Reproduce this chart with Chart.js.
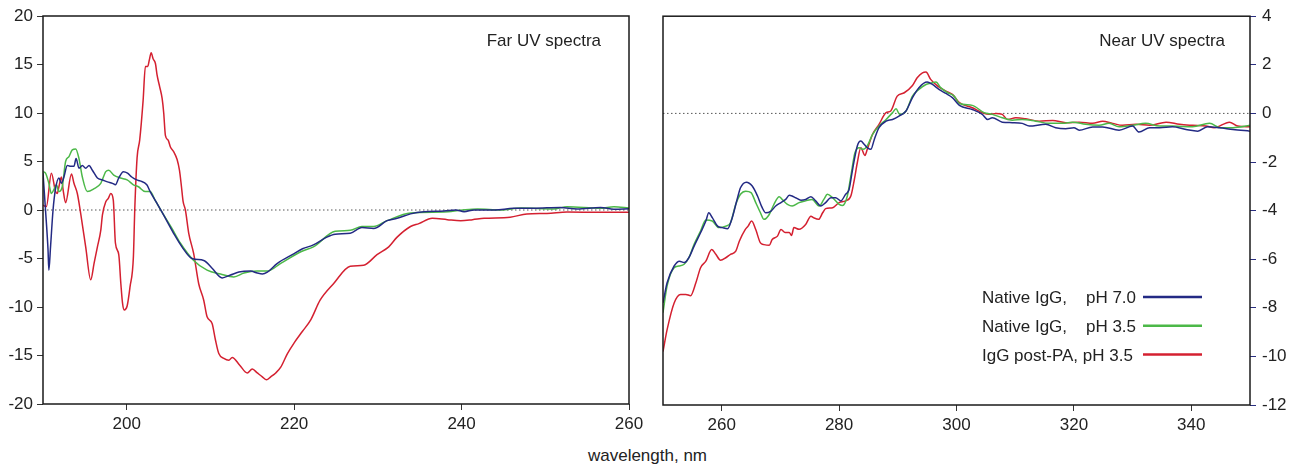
<!DOCTYPE html>
<html>
<head>
<meta charset="utf-8">
<title>Far / Near UV CD spectra</title>
<script src="https://cdn.jsdelivr.net/npm/chart.js@4.4.1/dist/chart.umd.min.js"></script>
<style>
    body { margin: 0; background: #fff; }
    #wrap { position: relative; width: 1289px; height: 464px; overflow: hidden; font-family: 'Liberation Sans', Arial, sans-serif; }
    canvas { position: absolute; top: 0; }
    #farChart { left: 0; }
    #nearChart { left: 640px; }
    #xTitle { position: absolute; left: 0; width: 1295px; top: 446px; line-height: 20px; text-align: center; font-size: 17px; color: #222; }
</style>
</head>
<body>
<div id="wrap">
    <canvas id="farChart" width="660" height="440" style="width:660px;height:440px"></canvas>
    <canvas id="nearChart" width="649" height="440" style="width:649px;height:440px"></canvas>
    <div id="xTitle">wavelength, nm</div>
</div>
<script>
// Series labels and colours
const seriesLabels = ['Native IgG,    pH 7.0', 'Native IgG,    pH 3.5', 'IgG post-PA, pH 3.5'];
const seriesColors = ['#232a84', '#4cb848', '#d42030'];

// Tick values
const farXTicks = [200, 220, 240, 260];
const farYTicks = [-20, -15, -10, -5, 0, 5, 10, 15, 20];
const nearXTicks = [260, 280, 300, 320, 340];
const nearYTicks = [-12, -10, -8, -6, -4, -2, 0, 2, 4];

// Far UV spectra: [wavelength nm, CD signal]
const farNative70 = [[190,3.8],[190.3,0],[190.6,-4.1],[190.7,-6.2],[190.9,-3.8],[191.2,0],[191.5,2.2],[191.9,3.3],[192.2,2.75],[192.5,3.4],[192.9,4.6],[193.3,4.5],[193.7,4.5],[193.95,5.3],[194.3,4.3],[194.7,4.6],[195.1,4.3],[195.5,4.6],[195.9,4.1],[196.5,3.3],[197.1,3.1],[197.7,2.9],[198.3,2.75],[198.65,2.6],[199.05,3.3],[199.6,3.95],[200.1,3.8],[200.6,3.4],[201.2,3.1],[201.6,3.0],[202.4,2.6],[202.8,1.9],[203.6,0.7],[204.2,-0.2],[205.6,-2.4],[206.6,-3.8],[207.8,-5.0],[209.2,-5.2],[210.2,-6.0],[211.4,-7.0],[212.4,-6.7],[213.4,-6.4],[214.8,-6.3],[215.6,-6.5],[216.2,-6.6],[216.8,-6.4],[218,-5.5],[220,-4.5],[221,-4.0],[222.3,-3.6],[223.9,-2.8],[224.9,-2.5],[226.7,-2.4],[228.1,-1.8],[229.5,-1.9],[231.1,-1.1],[232.3,-0.86],[233.9,-0.4],[235.5,-0.17],[237.9,-0.1],[239.3,0],[240.3,-0.17],[241.5,0],[244,0],[246.2,0.17],[248.6,0.17],[251.8,0.27],[253.8,0.1],[256.6,0.27],[258.2,0.07],[260,0.14]];
const farNative35 = [[190,3.95],[190.3,3.8],[190.7,2.75],[191,1.7],[191.3,2.1],[191.6,2.6],[191.9,1.9],[192.3,2.4],[192.7,5.0],[193.1,5.5],[193.5,6.2],[193.9,6.3],[194.3,5.3],[194.7,3.4],[195.3,1.9],[196.1,2.2],[196.9,2.75],[197.5,3.95],[197.85,4.1],[198.45,3.6],[199.25,3.3],[200.05,3.1],[200.8,2.6],[201.4,2.4],[202.2,1.9],[202.8,1.9],[203.4,1.0],[204.2,-0.2],[205.4,-1.9],[206.4,-3.4],[208,-5.2],[209.6,-6.2],[211.2,-6.6],[212.8,-6.9],[214,-6.5],[215.6,-6.3],[216.8,-6.3],[218.4,-5.5],[220.8,-4.3],[222.3,-3.8],[224.9,-2.2],[226.7,-2.1],[228.1,-1.7],[229.5,-1.7],[231.1,-1.1],[233.9,-0.3],[237.9,-0.2],[239.9,-0.03],[241.9,0.1],[244.7,0],[247.1,0.2],[251,0.1],[252.6,0.34],[256.6,0.17],[258.2,0.34],[260,0.2]];
const farPostPA35 = [[190,0.5],[190.4,0.35],[191,3.8],[191.5,1.9],[191.7,1.7],[191.9,2.4],[192.2,3.4],[192.4,2.1],[192.7,0.75],[193.4,3.7],[193.7,2.75],[194.1,1.7],[194.5,-0.35],[195.1,-3.8],[195.7,-7.2],[196.1,-5.5],[196.5,-3.8],[196.9,-2.1],[197.1,-0.5],[197.5,0.85],[197.8,1.2],[198.1,1.7],[198.4,1.0],[198.65,-3.4],[199.05,-4.6],[199.3,-7.6],[199.5,-9.6],[199.7,-10.3],[200.05,-9.9],[200.4,-7.9],[200.8,-4.8],[200.96,0],[201.24,5.4],[201.55,7.2],[201.96,11.3],[202.23,14.8],[202.51,14.8],[202.71,15.5],[202.92,16.2],[203.15,15.6],[203.43,15.1],[203.63,13.9],[203.94,12.7],[204.23,11.5],[204.42,10],[204.62,7.7],[204.95,7.2],[205.22,6.5],[205.62,6.0],[206.02,5.2],[206.3,4.1],[206.54,2.4],[206.74,0.86],[207.01,0],[207.41,-2.4],[208,-4.5],[208.6,-7.6],[209.2,-9.3],[209.6,-11],[210.2,-11.7],[210.6,-13.4],[211,-14.8],[211.6,-15.3],[212.2,-15.5],[212.6,-15.2],[213.5,-16],[214.4,-16.8],[215,-16.4],[215.6,-16.8],[216.2,-17.2],[216.7,-17.5],[217.2,-17.2],[217.8,-16.8],[218.4,-16.2],[219.2,-14.8],[220,-13.7],[221,-12.5],[222,-11.3],[223.1,-9.3],[224.7,-7.6],[226.7,-5.8],[228.3,-5.7],[229.9,-4.6],[231.3,-3.8],[232.3,-2.8],[233.9,-1.7],[234.9,-1.4],[236.5,-0.86],[238.3,-1.0],[239.9,-1.1],[241.3,-1.0],[242.7,-0.86],[245.8,-0.75],[247.8,-0.4],[250.2,-0.35],[252.6,-0.2],[256.6,-0.24],[260,-0.24]];

// Near UV spectra: [wavelength nm, CD signal]
const nearNative70 = [[250,-7.8],[250.7,-6.97],[251.9,-6.28],[252.8,-6.08],[253.6,-6.14],[254.4,-5.94],[255.3,-5.46],[256.4,-4.91],[257.3,-4.43],[257.8,-4.09],[258.4,-4.29],[259.3,-4.64],[260.1,-4.7],[261,-4.75],[261.8,-4.29],[262.7,-3.47],[263.2,-3.06],[264.2,-2.83],[265.2,-2.99],[266.1,-3.4],[266.9,-3.88],[267.5,-4.09],[268.4,-4.02],[269.2,-3.81],[270.1,-3.67],[270.9,-3.54],[271.5,-3.37],[272,-3.4],[272.6,-3.47],[273.5,-3.57],[274.3,-3.54],[275.2,-3.43],[276,-3.6],[276.9,-3.81],[277.7,-3.67],[278.6,-3.47],[279.4,-3.47],[280.3,-3.6],[281.1,-3.33],[281.7,-3.13],[282.3,-2.3],[283.1,-1.34],[283.7,-1.14],[284.3,-1.28],[284.8,-1.41],[285.4,-1.48],[286,-1.07],[286.8,-0.59],[288,-0.32],[289.1,-0.25],[290.2,-0.11],[291.4,0.1],[292.5,0.65],[293.6,1.06],[295,1.29],[295.9,1.19],[297,0.99],[298.2,0.82],[299.3,0.65],[300.5,0.33],[302.7,0.16],[304.4,-0.04],[305.3,-0.25],[306.1,-0.18],[307.8,-0.36],[309.5,-0.38],[311.2,-0.41],[312.4,-0.52],[315.2,-0.45],[316.9,-0.59],[318.6,-0.63],[320,-0.59],[320.9,-0.69],[323.2,-0.56],[324.9,-0.56],[327.7,-0.69],[330,-0.52],[331.1,-0.77],[332.9,-0.59],[334.6,-0.59],[336.8,-0.55],[339.1,-0.66],[341.1,-0.73],[342.8,-0.55],[344.8,-0.59],[347.1,-0.66],[350,-0.73]];
const nearNative35 = [[250,-8.2],[250.7,-7.1],[251.9,-6.35],[252.7,-6.28],[253.6,-6.21],[254.4,-5.94],[255.3,-5.39],[256.4,-4.84],[257.3,-4.39],[258.4,-4.43],[259.5,-4.7],[260.7,-4.64],[261.5,-4.5],[262.4,-3.74],[263.2,-3.33],[264.1,-3.2],[265,-3.26],[265.8,-3.67],[266.6,-4.09],[267.2,-4.36],[268.1,-4.16],[268.9,-3.74],[269.8,-3.43],[270.3,-3.54],[271.2,-3.74],[272,-3.81],[273.2,-3.67],[274.3,-3.6],[275.4,-3.54],[276.6,-3.81],[277.4,-3.54],[278,-3.33],[278.9,-3.47],[280,-3.74],[280.6,-3.79],[281.4,-3.4],[282,-2.58],[282.7,-1.62],[283.4,-1.41],[284.1,-1.48],[284.8,-1.34],[285.7,-0.86],[286.8,-0.52],[288,-0.25],[289.1,0.03],[289.7,0.19],[290.3,-0.04],[291.4,0.1],[292.5,0.71],[293.6,0.99],[294.8,1.19],[295.6,1.24],[296.5,1.29],[297.3,1.06],[298.5,0.85],[299.6,0.71],[300.5,0.41],[302.7,0.33],[304.7,0.03],[306.1,-0.04],[307.8,-0.18],[309.5,-0.28],[311.2,-0.25],[313.5,-0.32],[315.8,-0.41],[318.1,-0.41],[319.8,-0.36],[322,-0.45],[324.3,-0.49],[326,-0.41],[327.7,-0.55],[330,-0.49],[332.2,-0.41],[334.6,-0.52],[336.8,-0.52],[340.2,-0.55],[343.1,-0.41],[345,-0.59],[347.1,-0.59],[350,-0.49]];
const nearPostPA35 = [[250,-9.8],[250.7,-8.9],[251.9,-7.8],[253,-7.45],[253.9,-7.45],[254.7,-7.5],[255.6,-6.97],[256.4,-6.35],[257.3,-6.08],[258.3,-5.6],[259,-5.8],[259.8,-6.04],[260.7,-5.94],[261.5,-5.8],[262.4,-5.67],[263,-5.26],[264,-4.78],[264.5,-4.64],[265.1,-4.43],[265.8,-4.78],[266.6,-5.33],[267.2,-5.4],[268.1,-5.43],[268.6,-5.19],[269.5,-5.05],[270.1,-4.78],[270.8,-4.9],[271.5,-4.9],[271.9,-5.02],[272.3,-4.7],[273.2,-4.77],[274.3,-4.57],[275.2,-4.23],[275.7,-4.3],[276.5,-4.36],[277.2,-4.09],[277.7,-3.92],[278.9,-3.88],[280,-3.67],[281.1,-3.6],[282,-3.4],[282.6,-2.72],[283.1,-2.03],[283.7,-1.41],[284.4,-1.73],[284.8,-1.48],[285.7,-0.86],[286.8,-0.45],[288,0.03],[288.8,0.1],[289.9,0.71],[291.1,0.85],[292.5,1.15],[293.3,1.47],[294.2,1.67],[294.8,1.7],[295.6,1.4],[296.8,1.12],[298.2,0.92],[299.3,0.78],[300.5,0.44],[302.7,0.23],[304.4,0.03],[305.6,-0.04],[306.7,0],[307.8,-0.04],[308.7,-0.25],[310.1,-0.18],[311.8,-0.22],[314.1,-0.32],[316.4,-0.29],[318.6,-0.38],[320.9,-0.36],[323.2,-0.41],[324.9,-0.32],[326.6,-0.41],[328.3,-0.49],[330.6,-0.45],[332.9,-0.49],[335.7,-0.36],[338,-0.45],[340.2,-0.49],[342.5,-0.52],[343.9,-0.59],[346.5,-0.36],[347.9,-0.52],[350,-0.55]];

Chart.defaults.font.family = "'Liberation Sans', Arial, sans-serif";
Chart.defaults.font.size = 17;
Chart.defaults.color = '#222';

// Helper: turn [x, y] pairs into line datasets
function makeDatasets(seriesList) {
    return seriesList.map((pairs, i) => ({
        label: seriesLabels[i],
        data: pairs.map(p => ({ x: p[0], y: p[1] })),
        borderColor: seriesColors[i],
        borderWidth: 1.5,
        pointRadius: 0,
        cubicInterpolationMode: 'monotone',
        fill: false
    }));
}

// Dotted zero line and box around the plot area
const framePlugin = {
    id: 'frame',
    beforeDatasetsDraw(chart) {
        const { ctx, chartArea: a } = chart;
        const y0 = chart.scales.y.getPixelForValue(0);
        ctx.save();
        ctx.strokeStyle = '#555';
        ctx.lineWidth = 1;
        ctx.setLineDash([1.5, 2.5]);
        ctx.beginPath();
        ctx.moveTo(a.left, y0);
        ctx.lineTo(a.right, y0);
        ctx.stroke();
        ctx.restore();
    },
    afterDatasetsDraw(chart) {
        const { ctx, chartArea: a } = chart;
        ctx.save();
        ctx.strokeStyle = '#1a1a1a';
        ctx.lineWidth = 1.5;
        ctx.strokeRect(a.left, a.top, a.right - a.left, a.bottom - a.top);
        ctx.restore();
    }
};

// Panel caption in the top right corner
function panelLabel(text, rightOffset) {
    return {
        id: 'panelLabel',
        afterDraw(chart) {
            const { ctx, chartArea: a } = chart;
            ctx.save();
            ctx.font = "17px 'Liberation Sans', Arial, sans-serif";
            ctx.fillStyle = '#222';
            ctx.textAlign = 'right';
            ctx.textBaseline = 'alphabetic';
            ctx.fillText(text, a.right - rightOffset, a.top + 29.5);
            ctx.restore();
        }
    };
}

// Legend with the line sample after the text
const lineLegend = {
    id: 'lineLegend',
    afterDraw(chart) {
        const { ctx, chartArea: a } = chart;
        ctx.save();
        ctx.font = "17px 'Liberation Sans', Arial, sans-serif";
        ctx.textAlign = 'left';
        ctx.textBaseline = 'alphabetic';
        chart.data.datasets.forEach((ds, i) => {
            const base = a.bottom - 102 + i * 28.8;
            ctx.fillStyle = '#222';
            ctx.fillText(ds.label, a.right - 268, base);
            ctx.strokeStyle = ds.borderColor;
            ctx.lineWidth = 2.5;
            ctx.beginPath();
            ctx.moveTo(a.right - 107, base - 6);
            ctx.lineTo(a.right - 48, base - 6);
            ctx.stroke();
        });
        ctx.restore();
    }
};

function axisOptions(min, max, tickValues, extra) {
    return Object.assign({
        type: 'linear',
        min: min,
        max: max,
        afterBuildTicks: scale => { scale.ticks = tickValues.map(v => ({ value: v })); },
        ticks: { autoSkip: false, maxRotation: 0, padding: 4, color: '#222' },
        grid: { drawOnChartArea: false, drawTicks: true, tickLength: 6, color: '#333', lineWidth: 1 },
        border: { display: false }
    }, extra);
}

// Far UV chart
new Chart(document.getElementById('farChart'), {
    type: 'line',
    data: { datasets: makeDatasets([farNative70, farNative35, farPostPA35]) },
    options: {
        responsive: false,
        devicePixelRatio: 1,
        animation: false,
        layout: { padding: { top: 16, right: 31, left: 0, bottom: 0 } },
        plugins: { legend: { display: false }, tooltip: { enabled: false } },
        scales: {
            x: axisOptions(190, 260, farXTicks, { afterFit: s => { s.height = 36; } }),
            y: axisOptions(-20, 20, farYTicks, { position: 'left', afterFit: s => { s.width = 43; } })
        }
    },
    plugins: [framePlugin, panelLabel('Far UV spectra', 28)]
});

// Near UV chart
const nearY = axisOptions(-12, 4, nearYTicks, { position: 'right', afterFit: s => { s.width = 39; } });
nearY.ticks.padding = 6;
nearY.grid.color = '#2a2e80';

new Chart(document.getElementById('nearChart'), {
    type: 'line',
    data: { datasets: makeDatasets([nearNative70, nearNative35, nearPostPA35]) },
    options: {
        responsive: false,
        devicePixelRatio: 1,
        animation: false,
        layout: { padding: { top: 16, right: 0, left: 23, bottom: 0 } },
        plugins: { legend: { display: false }, tooltip: { enabled: false } },
        scales: {
            x: axisOptions(250, 350, nearXTicks, { afterFit: s => { s.height = 35; } }),
            y: nearY
        }
    },
    plugins: [framePlugin, panelLabel('Near UV spectra', 25), lineLegend]
});
</script>
</body>
</html>
